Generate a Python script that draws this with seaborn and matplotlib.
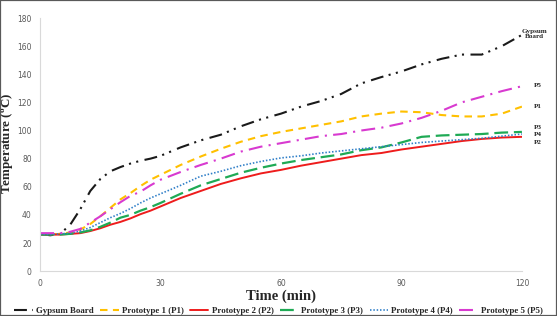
import numpy as np
import pandas as pd
import matplotlib
matplotlib.use("Agg")
import matplotlib.pyplot as plt
from matplotlib.patches import Rectangle
import seaborn as sns

# time (min) shared by all series
time_min = [0, 2.5, 5, 7.5, 10, 12.5, 15, 17.5, 20, 22.5, 25, 27.5, 30,
            35, 40, 45, 50, 55, 60, 65, 70, 75, 80, 85, 90, 95, 100, 105, 110, 115, 120]

gypsum = [26.5, 25.5, 26.5, 33, 44, 57, 65.5, 71, 74, 76.5, 78.5, 80, 82,
          88, 93, 97, 103, 108, 112, 117, 121, 126, 133.5, 138, 142, 147, 151, 154, 154, 160, 168]
p1 = [26, 26, 26.5, 27.5, 29.5, 33.5, 39, 45, 51, 55.5, 60.5, 65, 68.5,
      75.5, 81.5, 87, 92, 96, 99, 101.5, 104, 106.5, 110, 112, 113.5, 113, 111, 110, 110, 112, 117]
p2 = [26, 26, 26, 26.5, 27, 28.5, 30.5, 33, 35, 37.5, 40.5, 43, 46,
      52, 57, 62, 66, 69.5, 72, 75, 77.5, 80, 82.5, 84, 86.5, 88.5, 90.5, 92.5, 94, 95, 95.5]
p3 = [26, 26, 26, 26.5, 27.5, 29, 31.5, 34.5, 38, 40, 43, 45.5, 48.5,
      55, 61, 65.5, 70, 73.5, 76.5, 79, 81, 83, 86, 88, 91.5, 95.5, 96.5, 97, 97.5, 98.5, 99]
p4 = [26, 26, 26.5, 27, 28.5, 31, 34.5, 38, 41, 44.5, 48.5, 52, 55,
      61, 67.5, 71, 75, 78, 80.5, 82, 84, 85.5, 87, 88.5, 90, 91.5, 92.5, 93.5, 94.5, 96, 97.5]
p5 = [27, 27, 27, 28, 30, 34.5, 39, 44, 49, 53.5, 56.5, 61, 65,
      70.5, 75.5, 80, 85, 88.5, 91, 93.5, 96, 97.5, 100, 102, 105, 109, 114, 120, 124, 128, 131.5]

series_names = ["Gypsum Board", "Prototype 1 (P1)", "Prototype 2 (P2)",
                "Prototype 3 (P3)", "Prototype 4 (P4)", "Prototype 5 (P5)"]
end_labels = ["Gypsum\nBoard", "P1", "P2", "P3", "P4", "P5"]
end_label_y = [168.5, 117, 91.7, 102.4, 97.4, 132]

colors = ["#1a1a1a", "#FFC000", "#EE1C1C", "#1FAA55", "#2F7FC8", "#D83AD0"]
dash_styles = [(0, (6.2, 2.6, 1, 2.6, 1, 3.1)),
               (0, (3.6, 2.6)),
               "-",
               (0, (6.2, 2.6)),
               (0, (0.9, 1.1)),
               (0, (6.7, 3, 1, 3))]
widths = [1.5, 1.5, 1.4, 1.6, 1.2, 1.5]

df = pd.DataFrame({"time": time_min, series_names[0]: gypsum, series_names[1]: p1,
                   series_names[2]: p2, series_names[3]: p3, series_names[4]: p4,
                   series_names[5]: p5})

sns.set_style("white")
plt.rcParams["font.family"] = ["DejaVu Sans"]

fig = plt.figure(figsize=(5.57, 3.16), dpi=100)
ax = fig.add_axes([0.072, 0.142, 0.865, 0.801])

for name, c, ls, lw in zip(series_names, colors, dash_styles, widths):
    sns.lineplot(data=df, x="time", y=name, ax=ax, color=c, linestyle=ls,
                 linewidth=lw, label=name, legend=False)

for txt, yv in zip(end_labels, end_label_y):
    ax.text(123, yv, txt, fontsize=5.1, fontweight="bold", family="Liberation Serif",
            ha="left" if txt != "Gypsum\nBoard" else "center", va="center",
            linespacing=1.1, clip_on=False)

ax.set_xlim(0, 120)
ax.set_ylim(0, 180)
ax.set_xticks([0, 30, 60, 90, 120])
ax.set_yticks(range(0, 181, 20))
ax.tick_params(axis="both", length=0, labelsize=5.5, labelcolor="#595959", pad=6)
for s in ["top", "right"]:
    ax.spines[s].set_visible(False)
for s in ["left", "bottom"]:
    ax.spines[s].set_color("#D9D9D9")
    ax.spines[s].set_linewidth(0.8)

ax.set_xlabel("Time (min)", fontsize=10.5, fontweight="bold", family="Liberation Serif")
ax.set_ylabel("Temperature ($\\mathregular{^o}$C)", fontsize=9.4, fontweight="bold",
              family="Liberation Serif")
ax.xaxis.set_label_coords(0.5, -0.073)
ax.yaxis.set_label_coords(-0.052, 0.505)

handles, labels = ax.get_lines(), series_names
fig.legend(handles[:6], labels, loc="center", bbox_to_anchor=(0.5, 0.016), ncol=6,
           frameon=False, prop={"family": "Liberation Serif", "weight": "bold", "size": 6.4},
           handlelength=2.1, columnspacing=0.7, handletextpad=0.35, borderaxespad=0,
           borderpad=0)

fig.patches.append(Rectangle((0, 0), 1, 1, transform=fig.transFigure, fill=False,
                             edgecolor="#595959", linewidth=1.6))

fig.savefig("out.png", dpi=100)
